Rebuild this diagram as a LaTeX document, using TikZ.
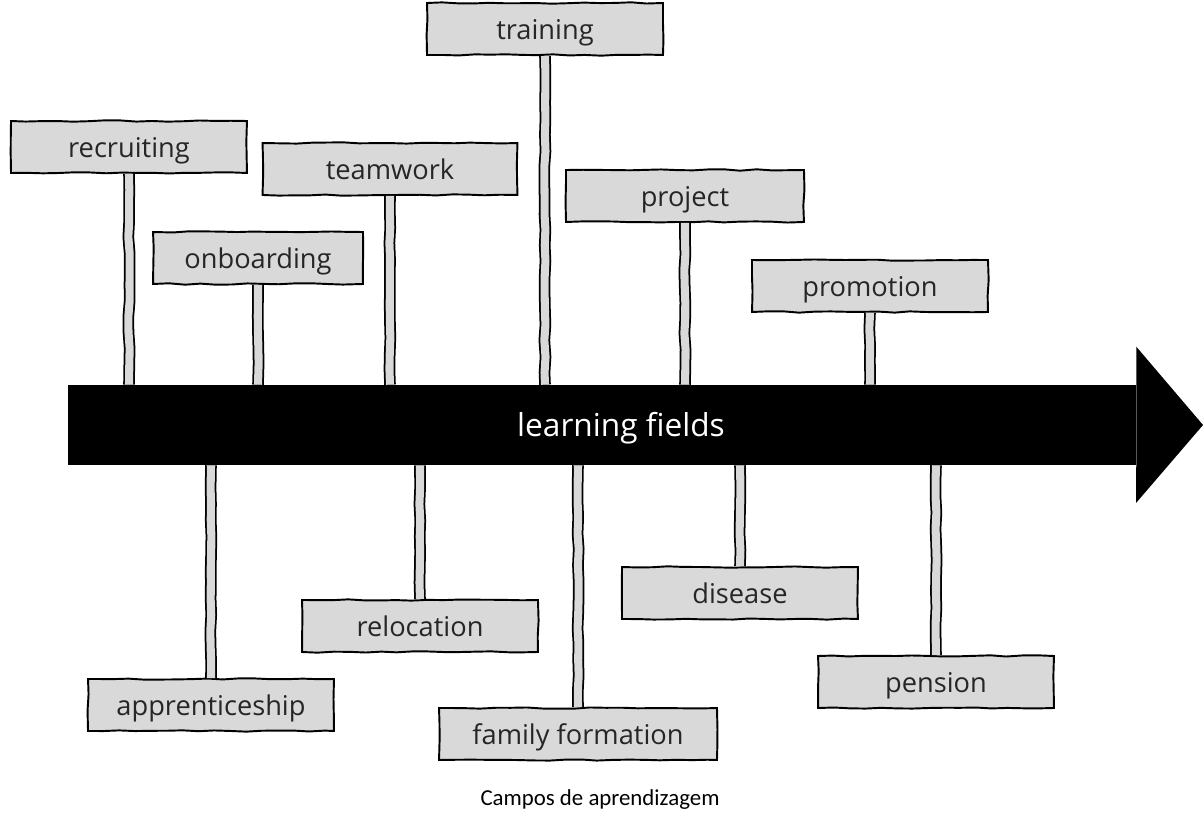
\documentclass[tikz,border=0pt]{standalone}
\usepackage{fontspec}
\setmainfont{Open Sans}
\newfontfamily\capfont{Carlito}
\usetikzlibrary{positioning, decorations.pathmorphing}

\begin{document}
\pgfmathsetseed{7}
\begin{tikzpicture}[
    x=0.02cm, y=-0.02cm,
    sketch/.style={decorate,decoration={random steps,segment length=9pt,amplitude=0.4pt}},
    sign/.style={draw,line width=1.1pt,fill=black!15,minimum width=4.72cm,minimum height=1.04cm,
        inner sep=0pt,text height=14pt,text depth=2pt,font=\fontsize{15.5}{18}\selectfont,sketch},
    post/.style={line width=1pt,double=black!15,double distance=4.6pt,sketch},
    every node/.style={text=black!85}
]
\useasboundingbox (0,0) rectangle (1203,837);
% Main arrow
\node[fill=black,minimum width=21.36cm,minimum height=1.6cm,inner sep=0pt] (bar) at (602,425) {};
\fill (bar.north east) -- ++(0,-38) -- (1203,425) -- ++(-67,78) -- (bar.south east) -- cycle;
\node[text=white,font=\fontsize{18}{21}\selectfont] (lf) at (621,428) {learning fields};
% Signs above the arrow
\node[sign] (rec) at (129,147) {recruiting};
\node[sign,minimum width=4.2cm] (onb) at (258,258) {onboarding};
\node[sign,minimum width=5.1cm] (team) at (390,169) {teamwork};
\node[sign] (train) at (545,29) {training};
\node[sign,minimum width=4.76cm] (proj) at (685,196) {project};
\node[sign] (prom) at (870,286) {promotion};
% Signs below the arrow
\node[sign,minimum width=4.92cm] (appr) at (211,705) {apprenticeship};
\node[sign] (reloc) at (420,626) {relocation};
\node[sign,minimum width=5.56cm] (fam) at (578,734) {family formation};
\node[sign] (dis) at (740,593) {disease};
\node[sign] (pen) at (936,682) {pension};
% Posts
\foreach \s in {rec,onb,team,train,proj,prom}
    \draw[post] (\s.south) -- (\s.south |- bar.north);
\foreach \s in {appr,reloc,fam,dis,pen}
    \draw[post] (\s.north) -- (\s.north |- bar.south);
% Caption
\node[font=\capfont\fontsize{13}{16}\selectfont,text=black] (cap) at (600,800) {Campos de aprendizagem};
\end{tikzpicture}
\end{document}
